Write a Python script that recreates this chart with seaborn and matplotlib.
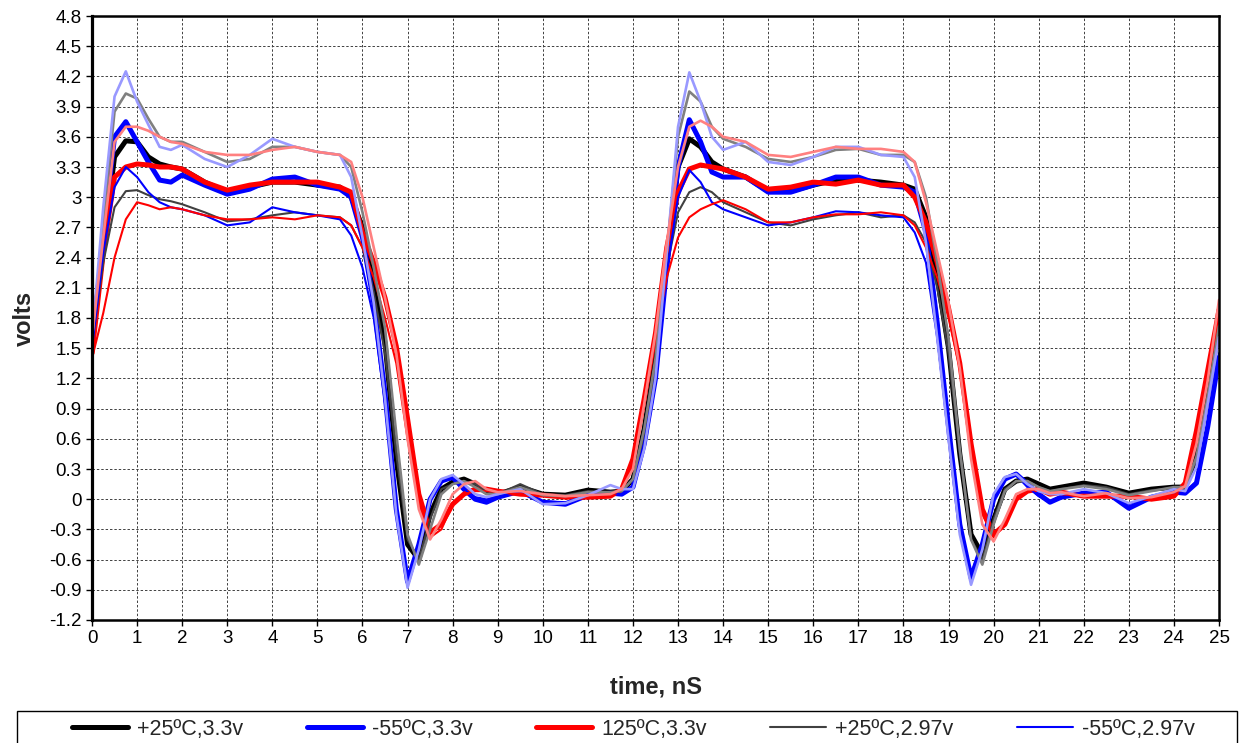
import numpy as np
import pandas as pd
import matplotlib
matplotlib.use("Agg")
import matplotlib.pyplot as plt
from matplotlib.patches import Rectangle
from matplotlib.ticker import FuncFormatter
import seaborn as sns

# time axis (ns), shared by every trace
t_ns = [0, 0.25, 0.5, 0.75, 1.0, 1.25, 1.5, 1.75, 2.0,
        2.5, 3.0, 3.5, 4.0, 4.5, 5.0, 5.5,
        5.75, 6.0, 6.25, 6.5, 6.75, 7.0, 7.25, 7.5, 7.75, 8.0, 8.25, 8.5, 8.75, 9.0,
        9.5, 10.0, 10.5, 11.0, 11.5,
        11.75, 12.0, 12.25, 12.5, 12.75, 13.0, 13.25, 13.5, 13.75, 14.0,
        14.5, 15.0, 15.5, 16.0, 16.5, 17.0, 17.5, 18.0,
        18.25, 18.5, 18.75, 19.0, 19.25, 19.5, 19.75, 20.0, 20.25, 20.5, 20.75, 21.0, 21.25, 21.5,
        22.0, 22.5, 23.0, 23.5, 24.0,
        24.25, 24.5, 24.75, 25.0]

# +25C 3.3v
k33 = [1.55, 2.5, 3.4, 3.56, 3.55, 3.4, 3.33, 3.3, 3.28,
       3.15, 3.05, 3.1, 3.15, 3.15, 3.12, 3.1,
       3.0, 2.7, 2.15, 1.55, 0.4, -0.45, -0.6, -0.15, 0.1, 0.17, 0.2, 0.15, 0.07, 0.05,
       0.12, 0.05, 0.04, 0.09, 0.07,
       0.08, 0.2, 0.7, 1.4, 2.4, 3.3, 3.58, 3.5, 3.35, 3.28,
       3.2, 3.06, 3.06, 3.12, 3.17, 3.17, 3.15, 3.12,
       3.08, 2.8, 2.2, 1.5, 0.45, -0.35, -0.55, -0.2, 0.1, 0.18, 0.2, 0.15, 0.1, 0.12,
       0.16, 0.12, 0.06, 0.1, 0.12,
       0.12, 0.42, 1.02, 1.71]
# -55C 3.3v
b33 = [1.5, 2.6, 3.6, 3.75, 3.55, 3.35, 3.17, 3.15, 3.22,
       3.12, 3.03, 3.08, 3.18, 3.2, 3.12, 3.08,
       3.0, 2.6, 1.95, 1.05, -0.1, -0.82, -0.45, 0.0, 0.18, 0.22, 0.1, 0.0, -0.03, 0.02,
       0.08, -0.03, -0.05, 0.04, 0.06,
       0.05, 0.12, 0.55, 1.2, 2.3, 3.3, 3.77, 3.55, 3.25, 3.2,
       3.2, 3.05, 3.05, 3.12, 3.2, 3.2, 3.12, 3.1,
       3.05, 2.65, 1.75, 0.72, -0.25, -0.78, -0.45, 0.0, 0.2, 0.25, 0.15, 0.05, -0.03, 0.02,
       0.06, 0.07, -0.09, 0.02, 0.07,
       0.06, 0.16, 0.72, 1.41]
# 125C 3.3v
r33 = [1.45, 2.45, 3.2, 3.3, 3.33, 3.32, 3.3, 3.3, 3.28,
       3.15, 3.07, 3.12, 3.15, 3.15, 3.15, 3.1,
       3.05, 2.65, 2.35, 2.0, 1.52, 0.8, 0.05, -0.33, -0.25, -0.05, 0.05, 0.1, 0.1, 0.08,
       0.05, 0.04, 0.02, 0.02, 0.03,
       0.1, 0.4, 1.0, 1.65, 2.5, 3.05, 3.28, 3.32, 3.3, 3.28,
       3.2, 3.08, 3.1, 3.15, 3.13, 3.17, 3.12, 3.12,
       3.0, 2.75, 2.35, 1.9, 1.35, 0.55, -0.1, -0.35, -0.25, 0.0, 0.08, 0.1, 0.05, 0.07,
       0.03, 0.03, 0.03, 0.0, 0.03,
       0.16, 0.68, 1.28, 1.88]
# +25C 2.97v
k297 = [1.55, 2.35, 2.9, 3.06, 3.07, 3.02, 2.98, 2.96, 2.93,
        2.85, 2.76, 2.78, 2.82, 2.85, 2.82, 2.8,
        2.72, 2.5, 2.05, 1.45, 0.45, -0.4, -0.6, -0.2, 0.1, 0.15, 0.18, 0.15, 0.08, 0.05,
        0.15, 0.05, 0.04, 0.08, 0.07,
        0.08, 0.2, 0.65, 1.35, 2.3, 2.85, 3.05, 3.1, 3.05, 2.95,
        2.85, 2.75, 2.72, 2.78, 2.82, 2.85, 2.8, 2.82,
        2.75, 2.55, 2.1, 1.45, 0.45, -0.4, -0.6, -0.2, 0.1, 0.18, 0.18, 0.12, 0.08, 0.1,
        0.14, 0.12, 0.05, 0.09, 0.11,
        0.11, 0.4, 1.0, 1.7]
# -55C 2.97v
b297 = [1.5, 2.45, 3.1, 3.3, 3.2, 3.05, 2.95, 2.9, 2.88,
        2.82, 2.72, 2.75, 2.9, 2.85, 2.82, 2.78,
        2.62, 2.3, 1.8, 0.95, -0.1, -0.78, -0.45, 0.0, 0.18, 0.2, 0.1, 0.02, 0.0, 0.03,
        0.08, -0.02, -0.03, 0.04, 0.06,
        0.05, 0.12, 0.55, 1.2, 2.25, 3.0, 3.27, 3.15, 2.95, 2.88,
        2.8, 2.72, 2.75, 2.8, 2.86, 2.85, 2.82, 2.8,
        2.65, 2.35, 1.6, 0.65, -0.3, -0.75, -0.42, 0.02, 0.2, 0.24, 0.12, 0.03, -0.02, 0.03,
        0.07, 0.07, -0.05, 0.03, 0.07,
        0.06, 0.18, 0.75, 1.45]
# 125C 2.97v
r297 = [1.4, 1.85, 2.4, 2.78, 2.95, 2.92, 2.88, 2.9, 2.88,
        2.82, 2.78, 2.78, 2.8, 2.78, 2.82, 2.8,
        2.72, 2.5, 2.2, 1.8, 1.35, 0.6, -0.05, -0.38, -0.3, -0.05, 0.05, 0.08, 0.08, 0.07,
        0.05, 0.04, 0.02, 0.03, 0.03,
        0.1, 0.35, 0.95, 1.6, 2.2, 2.6, 2.8, 2.88, 2.93, 2.97,
        2.88, 2.75, 2.75, 2.8, 2.83, 2.83, 2.85, 2.82,
        2.72, 2.5, 2.2, 1.8, 1.3, 0.5, -0.15, -0.38, -0.25, 0.02, 0.08, 0.1, 0.06, 0.05,
        0.03, 0.03, 0.02, 0.01, 0.03,
        0.15, 0.65, 1.25, 1.85]
# +25C 3.63v
k363 = [1.6, 2.75, 3.85, 4.03, 3.98, 3.78, 3.6, 3.55, 3.55,
        3.45, 3.35, 3.38, 3.5, 3.5, 3.45, 3.42,
        3.3, 2.85, 2.3, 1.7, 0.65, -0.35, -0.65, -0.3, 0.05, 0.15, 0.18, 0.12, 0.05, 0.05,
        0.12, 0.04, 0.03, 0.07, 0.07,
        0.08, 0.2, 0.7, 1.4, 2.45, 3.6, 4.05, 3.95, 3.7, 3.58,
        3.5, 3.38, 3.35, 3.4, 3.47, 3.48, 3.42, 3.42,
        3.35, 3.0, 2.35, 1.6, 0.5, -0.4, -0.65, -0.25, 0.08, 0.18, 0.18, 0.12, 0.08, 0.1,
        0.13, 0.1, 0.04, 0.08, 0.12,
        0.12, 0.42, 1.02, 1.72]
# -55C 3.63v
b363 = [1.6, 2.9, 4.0, 4.25, 3.95, 3.72, 3.5, 3.47, 3.52,
        3.38, 3.3, 3.42, 3.58, 3.5, 3.45, 3.42,
        3.2, 2.6, 1.95, 1.0, -0.15, -0.88, -0.5, 0.0, 0.2, 0.24, 0.15, 0.05, 0.02, 0.05,
        0.1, -0.05, -0.04, 0.04, 0.14,
        0.1, 0.1, 0.5, 1.2, 2.45, 3.7, 4.24, 3.95, 3.6, 3.47,
        3.55, 3.35, 3.32, 3.4, 3.5, 3.5, 3.42, 3.4,
        3.2, 2.55, 1.6, 0.6, -0.35, -0.85, -0.5, 0.05, 0.22, 0.25, 0.15, 0.08, 0.05, 0.05,
        0.1, 0.06, -0.04, 0.03, 0.1,
        0.08, 0.32, 0.95, 1.61]
# 125C 3.63v
r363 = [1.6, 2.6, 3.55, 3.7, 3.7, 3.66, 3.6, 3.55, 3.53,
        3.45, 3.42, 3.42, 3.47, 3.5, 3.45, 3.42,
        3.35, 3.0, 2.5, 2.0, 1.45, 0.6, -0.1, -0.4, -0.2, 0.05, 0.15, 0.18, 0.1, 0.07,
        0.08, 0.05, 0.03, 0.04, 0.05,
        0.1, 0.3, 0.95, 1.65, 2.55, 3.3, 3.7, 3.76, 3.7, 3.6,
        3.55, 3.42, 3.4, 3.45, 3.5, 3.48, 3.48, 3.45,
        3.35, 2.95, 2.45, 1.95, 1.3, 0.4, -0.25, -0.42, -0.2, 0.05, 0.1, 0.1, 0.06, 0.07,
        0.03, 0.06, 0.01, 0.02, 0.07,
        0.13, 0.55, 1.18, 1.98]

labels = ["+25ºC,3.3v", "-55ºC,3.3v", "125ºC,3.3v", "+25ºC,2.97v", "-55ºC,2.97v",
          "125ºC,2.97v", "+25ºC,3.63v", "-55ºC,3.63v", "125ºC,3.63v"]
series = [k33, b33, r33, k297, b297, r297, k363, b363, r363]
colors = ["#000000", "#0000FF", "#FF0000", "#404040", "#0000FF", "#FF0000",
          "#808080", "#9999FF", "#FF8080"]
widths = [3.6, 3.6, 3.6, 1.5, 1.5, 1.5, 1.9, 1.9, 1.9]

sns.set_style("white")
plt.rcParams['font.family'] = ['Liberation Sans', 'DejaVu Sans']

fig = plt.figure(figsize=(12.4, 7.43), dpi=100)
ax = fig.add_axes([92/1240, 1-620/743, (1219-92)/1240, (620-16)/743])

for name, vals, c, lw in zip(labels, series, colors, widths):
    sns.lineplot(x=t_ns, y=vals, ax=ax, color=c, linewidth=lw, label=name,
                 estimator=None, sort=False, legend=False)
for ln in ax.get_lines():
    ln.set_solid_joinstyle("round")

ax.set_xlim(0, 25)
ax.set_ylim(-1.2, 4.8)
ax.set_xticks(np.arange(0, 26, 1))
ax.set_yticks(np.round(np.arange(-1.2, 4.81, 0.3), 1))
ax.yaxis.set_major_formatter(FuncFormatter(lambda v, p: "%g" % round(v, 1)))
ax.tick_params(axis="both", direction="out", length=4, width=1, labelsize=13.5,
               colors="black", left=True, bottom=True)
ax.grid(True, color="#404040", linestyle=(0, (2.5, 2)), linewidth=0.7)
for side in ["top", "right", "bottom", "left"]:
    ax.spines[side].set_visible(True)
    ax.spines[side].set_color("black")
    ax.spines[side].set_linewidth(1.8)
ax.spines["left"].set_linewidth(2.3)

ax.set_xlabel("time, nS", fontsize=17, fontweight="bold", labelpad=20)
ax.set_ylabel("volts", fontsize=17, fontweight="bold")
ax.yaxis.set_label_coords(-0.05, 0.5)

# legend box runs across the full width and off the bottom edge
fig.add_artist(Rectangle((17/1240, -0.02), (1237-17)/1240, (743-711)/743 + 0.02,
                         transform=fig.transFigure, fill=False,
                         edgecolor="black", linewidth=1.0))
handles = ax.get_lines()[:5]
fig.legend(handles, labels[:5], loc="center left", ncol=5,
           bbox_to_anchor=(72/1240, 1-729/743),
           fontsize=15.5, frameon=False, handlelength=2.6, handletextpad=0.42,
           columnspacing=2.95, borderpad=0, borderaxespad=0)

fig.savefig("out.png", dpi=100)
